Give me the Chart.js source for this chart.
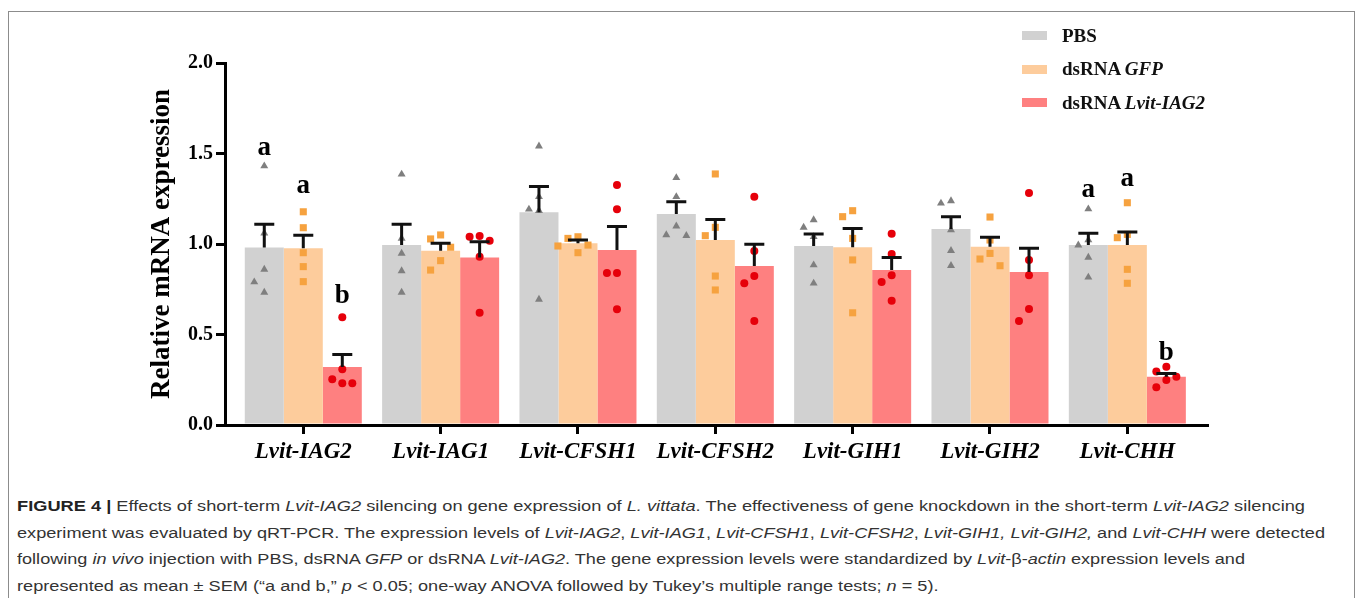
<!DOCTYPE html>
<html>
<head>
<meta charset="utf-8">
<script src="https://cdn.jsdelivr.net/npm/chart.js@4.4.1/dist/chart.umd.min.js"></script>
<style>
    html, body { margin: 0; padding: 0; background: #fff; }
    body { width: 1357px; height: 598px; position: relative; overflow: hidden; }
    #frame { position: absolute; left: 8px; top: 11px; width: 1347px; height: 640px; border: 1.5px solid #8c8c8c; box-sizing: border-box; }
    #chartBox { position: absolute; left: 0; top: 0; width: 1357px; height: 480px; }
    #legend { position: absolute; left: 1022px; top: 19px; font: bold 19px "Liberation Serif", "Times New Roman", serif; color: #111; }
    #legend .item { height: 33.5px; display: flex; align-items: center; white-space: nowrap; }
    #legend .swatch { width: 25px; height: 9px; margin-right: 15px; }
    #caption { position: absolute; left: 17px; top: 493px; font: 15.5px "Liberation Sans", Arial, sans-serif; color: #333; }
    #caption .line { height: 26.7px; line-height: 26.7px; white-space: nowrap; transform-origin: left center; }
    #caption b { color: #222; }
</style>
</head>
<body>
<div id="frame"></div>
<div id="chartBox"><canvas id="geneChart" width="1357" height="480"></canvas></div>
<div id="legend"></div>
<div id="caption">
    <div class="line"><b>FIGURE 4 |</b> Effects of short-term <i>Lvit-IAG2</i> silencing on gene expression of <i>L. vittata</i>. The effectiveness of gene knockdown in the short-term <i>Lvit-IAG2</i> silencing</div>
    <div class="line">experiment was evaluated by qRT-PCR. The expression levels of <i>Lvit-IAG2</i>, <i>Lvit-IAG1</i>, <i>Lvit-CFSH1</i>, <i>Lvit-CFSH2</i>, <i>Lvit-GIH1, Lvit-GIH2,</i> and <i>Lvit-CHH</i> were detected</div>
    <div class="line">following <i>in vivo</i> injection with PBS, dsRNA <i>GFP</i> or dsRNA <i>Lvit-IAG2</i>. The gene expression levels were standardized by <i>Lvit</i>-β-<i>actin</i> expression levels and</div>
    <div class="line">represented as mean ± SEM (“a and b,” <i>p</i> &lt; 0.05; one-way ANOVA followed by Tukey’s multiple range tests; <i>n</i> = 5).</div>
</div>
<script>
    const genes = ['Lvit-IAG2', 'Lvit-IAG1', 'Lvit-CFSH1', 'Lvit-CFSH2', 'Lvit-GIH1', 'Lvit-GIH2', 'Lvit-CHH'];
    const yTicks = [0, 0.5, 1.0, 1.5, 2.0];

    // series names: [plain part, italic part]
    const seriesNames = [['PBS', ''], ['dsRNA ', 'GFP'], ['dsRNA ', 'Lvit-IAG2']];

    const pbsMean = [0.98, 0.994, 1.175, 1.166, 0.989, 1.083, 0.994];
    const pbsSem = [0.129, 0.115, 0.142, 0.068, 0.066, 0.068, 0.065];
    const gfpMean = [0.976, 0.963, 1.004, 1.022, 0.982, 0.985, 0.994];
    const gfpSem = [0.072, 0.041, 0.018, 0.114, 0.103, 0.052, 0.072];
    const iag2Mean = [0.32, 0.926, 0.967, 0.878, 0.856, 0.845, 0.267];
    const iag2Sem = [0.07, 0.087, 0.129, 0.12, 0.069, 0.131, 0.018];

    // individual animals (n = 5) per gene
    const pbsPoints = [
        [1.431, 1.06, 0.86, 0.79, 0.733],
        [1.385, 1.031, 0.948, 0.851, 0.733],
        [1.541, 1.261, 1.192, 1.184, 0.694],
        [1.366, 1.261, 1.099, 1.05, 1.046],
        [1.133, 1.092, 1.04, 0.884, 0.783],
        [1.238, 1.225, 1.077, 0.963, 0.88],
        [1.193, 1.022, 0.994, 0.926, 0.816]
    ];
    const gfpPoints = [
        [1.178, 1.09, 0.952, 0.875, 0.792],
        [1.05, 1.028, 0.982, 0.908, 0.856],
        [1.04, 1.031, 0.994, 0.989, 0.952],
        [1.387, 1.092, 1.046, 0.823, 0.746],
        [1.184, 1.151, 1.031, 0.912, 0.62],
        [1.149, 1.022, 0.948, 0.917, 0.88],
        [1.228, 1.053, 1.035, 0.86, 0.783]
    ];
    const iag2Points = [
        [0.595, 0.308, 0.253, 0.23, 0.23],
        [1.044, 1.04, 1.018, 0.93, 0.62],
        [1.326, 1.192, 0.84, 0.84, 0.639],
        [1.261, 0.961, 0.823, 0.783, 0.575],
        [1.057, 0.945, 0.827, 0.79, 0.687],
        [1.282, 0.912, 0.827, 0.641, 0.575],
        [0.322, 0.295, 0.267, 0.249, 0.208]
    ];

    // significance letters: gene index, series index, letter, baseline value
    const letterGene = [0, 0, 0, 6, 6, 6];
    const letterSeries = [0, 1, 2, 0, 1, 2];
    const letterText = ['a', 'a', 'b', 'a', 'a', 'b'];
    const letterY = [1.49, 1.28, 0.672, 1.262, 1.318, 0.359];

    const barColors = ['#d1d1d1', '#fdcc9c', '#fe8080'];
    const pointColors = ['#7f7f7f', '#f6a23f', '#e6000a'];
    const pointStyles = ['triangle', 'rect', 'circle'];
    const pointRadius = [4.6, 5, 4];
    const serif = '"Liberation Serif", "Times New Roman", serif';

    const means = [pbsMean, gfpMean, iag2Mean];
    const sems = [pbsSem, gfpSem, iag2Sem];
    const points = [pbsPoints, gfpPoints, iag2Points];

    const groupWidth = 0.852;
    const barUnit = groupWidth / 3;

    // simple column swarm so that overlapping points sit side by side
    const swarm = (values, centre) => {
        const stepX = 0.073, stepY = 0.07;
        const placed = [];
        [...values].sort((a, b) => b - a).forEach(v => {
            for (const k of [0, -1, 1, -2, 2]) {
                const x = centre + k * stepX;
                const clash = placed.some(p => Math.abs(p.y - v) < stepY && Math.abs(p.x - x) < stepX * 0.9);
                if (!clash) { placed.push({ x, y: v }); break; }
            }
        });
        return placed;
    };

    const barSets = means.map((m, s) => ({
        type: 'bar',
        label: seriesNames[s].join(''),
        data: m.map((v, i) => ({ x: i, y: v })),
        backgroundColor: barColors[s],
        borderWidth: 0,
        categoryPercentage: groupWidth,
        barPercentage: 1.0,
        order: 2
    }));

    const pointSets = points.map((rows, s) => ({
        type: 'scatter',
        label: seriesNames[s].join('') + ' points',
        data: rows.flatMap((vals, i) => swarm(vals, i + (s - 1) * barUnit)),
        pointStyle: pointStyles[s],
        pointRadius: pointRadius[s],
        backgroundColor: pointColors[s],
        borderWidth: 0,
        order: 1
    }));

    const errorBars = {
        id: 'errorBars',
        afterDatasetsDraw(chart) {
            const { ctx, scales: { y } } = chart;
            ctx.save();
            ctx.strokeStyle = '#111';
            ctx.lineWidth = 3;
            means.forEach((m, s) => {
                chart.getDatasetMeta(s).data.forEach((bar, i) => {
                    const top = y.getPixelForValue(m[i] + sems[s][i]);
                    ctx.beginPath();
                    ctx.moveTo(bar.x, bar.y);
                    ctx.lineTo(bar.x, top);
                    ctx.moveTo(bar.x - 10, top);
                    ctx.lineTo(bar.x + 10, top);
                    ctx.stroke();
                });
            });
            ctx.fillStyle = '#000';
            ctx.font = 'bold 27px ' + serif;
            ctx.textAlign = 'center';
            ctx.textBaseline = 'alphabetic';
            letterText.forEach((t, k) => {
                const bar = chart.getDatasetMeta(letterSeries[k]).data[letterGene[k]];
                ctx.fillText(t, bar.x, y.getPixelForValue(letterY[k]));
            });
            ctx.restore();
        }
    };

    new Chart(document.getElementById('geneChart'), {
        type: 'bar',
        data: { datasets: [...barSets, ...pointSets] },
        options: {
            responsive: false,
            animation: false,
            layout: { padding: { left: 0, right: 150, top: 63, bottom: 0 } },
            plugins: { legend: { display: false }, tooltip: { enabled: false } },
            scales: {
                x: {
                    type: 'linear',
                    min: -0.57,
                    max: 6.58,
                    offset: false,
                    afterBuildTicks: scale => { scale.ticks = genes.map((_, i) => ({ value: i })); },
                    afterFit: scale => { scale.height = 55; },
                    ticks: {
                        callback: v => genes[v],
                        autoSkip: false,
                        maxRotation: 0,
                        padding: 4,
                        color: '#000',
                        font: { family: serif, size: 23, weight: 'bold', style: 'italic' }
                    },
                    grid: { offset: false, drawOnChartArea: false, color: '#000', lineWidth: 3, tickLength: 9 },
                    border: { color: '#000', width: 3 }
                },
                y: {
                    min: 0,
                    max: 2,
                    afterBuildTicks: scale => { scale.ticks = yTicks.map(v => ({ value: v })); },
                    afterFit: scale => { scale.width = 225; },
                    ticks: {
                        callback: v => v.toFixed(1),
                        padding: 3,
                        color: '#000',
                        font: { family: serif, size: 20, weight: 'bold' }
                    },
                    grid: { drawOnChartArea: false, color: '#000', lineWidth: 3, tickLength: 9 },
                    border: { color: '#000', width: 3 },
                    title: {
                        display: true,
                        text: 'Relative mRNA expression',
                        color: '#000',
                        padding: { top: 146, bottom: 0 },
                        font: { family: serif, size: 27, weight: 'bold' }
                    }
                }
            }
        },
        plugins: [errorBars]
    });

    // legend with the italic gene names
    const legend = document.getElementById('legend');
    seriesNames.forEach(([plain, italic], s) => {
        const item = document.createElement('div');
        item.className = 'item';
        item.innerHTML = `<span class="swatch" style="background:${barColors[s]}"></span><span>${plain}<i>${italic}</i></span>`;
        legend.appendChild(item);
    });

    // stretch caption lines to the widths in the figure
    const lineEnds = [1305, 1325, 1245];
    const lines = [...document.querySelectorAll('#caption .line')];
    const ratios = [];
    lines.forEach((line, k) => {
        const span = document.createElement('span');
        span.innerHTML = line.innerHTML;
        line.innerHTML = '';
        line.appendChild(span);
        if (k < lineEnds.length) {
            ratios.push((lineEnds[k] - 17) / span.getBoundingClientRect().width);
        }
    });
    const avg = ratios.reduce((a, b) => a + b, 0) / ratios.length;
    lines.forEach((line, k) => {
        line.style.transform = `scaleX(${k < ratios.length ? ratios[k] : avg})`;
    });
</script>
</body>
</html>
